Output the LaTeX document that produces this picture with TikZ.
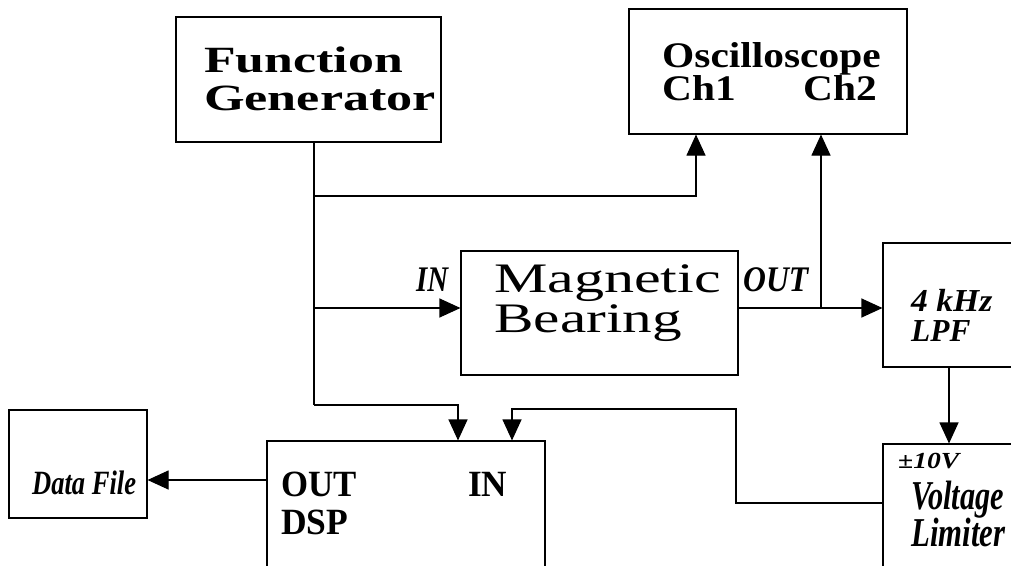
\documentclass[tikz,border=0pt]{standalone}
\usepackage{fontspec}
\setmainfont{Liberation Serif}
\usetikzlibrary{arrows.meta}
\newcommand\hsc[2]{\scalebox{#1}[1]{#2}}
\tikzset{
  ln/.style={line width=1.1pt, draw=black},
  arr/.style={ln, -{Triangle[length=21pt,width=19pt]}},
  box/.style={draw=black, line width=1.1pt, rectangle, inner sep=0pt, fill=none},
  lbl/.style={inner sep=0pt, anchor=base west},
}
\begin{document}
\begin{tikzpicture}[x=1pt,y=-1pt]
\useasboundingbox (0,0) rectangle (1011,565);
\clip (0,0) rectangle (1011,565);
\fill[white] (0,0) rectangle (1011,565);

% boxes
\node[box, minimum width=265pt, minimum height=125pt] (fg)  at (308.5,79.5) {};
\node[box, minimum width=278pt, minimum height=125pt] (osc) at (768,71.5) {};
\node[box, minimum width=277pt, minimum height=124pt] (mb)  at (599.5,313) {};
\node[box, minimum width=148pt, minimum height=124pt] (lpf) at (957,305) {};
\node[box, minimum width=148pt, minimum height=196pt] (vl)  at (957,542) {};
\node[box, minimum width=278pt, minimum height=199pt] (dsp) at (406,540.5) {};
\node[box, minimum width=138pt, minimum height=108pt] (df)  at (78,464) {};

% texts
\node[lbl] (tfg1) at (204,72)  {\fontsize{37}{37}\selectfont\bfseries\hsc{1.40}{Function}};
\node[lbl] (tfg2) at (204,110) {\fontsize{37}{37}\selectfont\bfseries\hsc{1.41}{Generator}};
\node[lbl] (tos1) at (662,67)  {\fontsize{36}{36}\selectfont\bfseries\hsc{1.15}{Oscilloscope}};
\node[lbl] (tos2) at (662,100) {\fontsize{36}{36}\selectfont\bfseries\hsc{1.15}{Ch1}};
\node[lbl] (tos3) at (803,100) {\fontsize{36}{36}\selectfont\bfseries\hsc{1.15}{Ch2}};
\node[lbl] (tmb1) at (494,292) {\fontsize{42}{42}\selectfont\hsc{1.43}{Magnetic}};
\node[lbl] (tmb2) at (494,332) {\fontsize{42}{42}\selectfont\hsc{1.41}{Bearing}};
\node[lbl] (tin)  at (416,291) {\fontsize{36}{36}\selectfont\bfseries\itshape\hsc{0.8}{IN}};
\node[lbl] (tout) at (743,291) {\fontsize{36}{36}\selectfont\bfseries\itshape\hsc{0.88}{OUT}};
\node[lbl] (tlp1) at (911,311) {\fontsize{32}{32}\selectfont\bfseries\itshape\hsc{1.05}{4 kHz}};
\node[lbl] (tlp2) at (911,341) {\fontsize{32}{32}\selectfont\bfseries\itshape\hsc{0.98}{LPF}};
\node[lbl] (tvl1) at (898,468) {\fontsize{23}{23}\selectfont\bfseries\itshape\hsc{1.2}{±10V}};
\node[lbl] (tvl2) at (911,509) {\fontsize{41}{41}\selectfont\bfseries\itshape\hsc{0.74}{Voltage}};
\node[lbl] (tvl3) at (911,546) {\fontsize{41}{41}\selectfont\bfseries\itshape\hsc{0.75}{Limiter}};
\node[lbl] (tdf)  at (32,494)  {\fontsize{34}{34}\selectfont\bfseries\itshape\hsc{0.78}{Data File}};
\node[lbl] (tds1) at (281,496) {\fontsize{37}{37}\selectfont\bfseries\hsc{0.94}{OUT}};
\node[lbl] (tds2) at (281,534) {\fontsize{37}{37}\selectfont\bfseries\hsc{0.96}{DSP}};
\node[lbl] (tds3) at (468,496) {\fontsize{37}{37}\selectfont\bfseries\hsc{0.95}{IN}};

% helper coordinates
\coordinate (tx)   at (314,0);
\coordinate (ch1x) at (696,0);
\coordinate (ch2x) at (821,0);
\coordinate (lx)   at (949,0);
\coordinate (dinA) at (458,0);
\coordinate (dinB) at (512,0);
\coordinate (xb)   at (736,0);
\coordinate (y196) at (0,196);
\coordinate (ym)   at (0,308);
\coordinate (y405) at (0,405);
\coordinate (y409) at (0,409);
\coordinate (y480) at (0,480);
\coordinate (y503) at (0,503);

% connectors
\draw[ln]  (fg.south -| tx) -- (tx |- y405);
\draw[arr] (tx |- y196) -| (osc.south -| ch1x);
\draw[arr] (tx |- ym) -- (mb.west |- ym);
\draw[arr] (tx |- y405) -| (dsp.north -| dinA);
\draw[arr] (mb.east |- ym) -- (lpf.west |- ym);
\draw[arr] (ch2x |- ym) -- (osc.south -| ch2x);
\draw[arr] (lpf.south -| lx) -- (vl.north -| lx);
\draw[arr] (vl.west |- y503) -| (xb |- y409) -| (dsp.north -| dinB);
\draw[arr] (dsp.west |- y480) -- (df.east |- y480);
\end{tikzpicture}
\end{document}
